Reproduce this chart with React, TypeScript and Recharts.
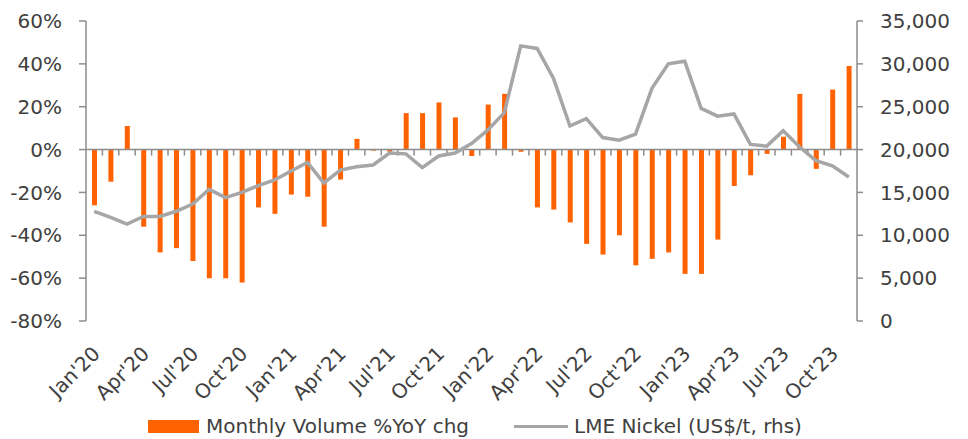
import { ComposedChart, Bar, Line, XAxis, YAxis, ReferenceLine, Legend } from 'recharts';

const months = [
  "Jan'20", "Feb'20", "Mar'20", "Apr'20", "May'20", "Jun'20", "Jul'20", "Aug'20", "Sep'20", "Oct'20", "Nov'20", "Dec'20",
  "Jan'21", "Feb'21", "Mar'21", "Apr'21", "May'21", "Jun'21", "Jul'21", "Aug'21", "Sep'21", "Oct'21", "Nov'21", "Dec'21",
  "Jan'22", "Feb'22", "Mar'22", "Apr'22", "May'22", "Jun'22", "Jul'22", "Aug'22", "Sep'22", "Oct'22", "Nov'22", "Dec'22",
  "Jan'23", "Feb'23", "Mar'23", "Apr'23", "May'23", "Jun'23", "Jul'23", "Aug'23", "Sep'23", "Oct'23", "Nov'23",
];

// Monthly volume, % YoY change
const volumeYoY = [
  -26, -15, 11, -36, -48, -46, -52, -60, -60, -62, -27, -30,
  -21, -22, -36, -14, 5, -0.5, -1, 17, 17, 22, 15, -3,
  21, 26, -1, -27, -28, -34, -44, -49, -40, -54, -51, -48,
  -58, -58, -42, -17, -12, -2, 6, 26, -9, 28, 39,
];

// LME nickel, US$/t
const nickel = [
  12800, 12100, 11300, 12200, 12200, 12800, 13650, 15350, 14400, 15000, 15800, 16450,
  17500, 18500, 16100, 17600, 18000, 18200, 19600, 19500, 17900, 19250, 19600, 20700,
  22300, 24300, 32100, 31800, 28300, 22750, 23600, 21400, 21100, 21800, 27150, 30000,
  30300, 24800, 23900, 24150, 20600, 20400, 22200, 20300, 18700, 18100, 16800,
];

const pctTicks = [-80, -60, -40, -20, 0, 20, 40, 60];
const usdTicks = [0, 5000, 10000, 15000, 20000, 25000, 30000, 35000];

const data = months.map((m, i) => ({ month: m, volume: volumeYoY[i], nickel: nickel[i] }));

const FONT = '"DejaVu Sans", sans-serif';
const TEXT = '#404040';
const AXIS = '#8c8c8c';
const ORANGE = '#FF6200';
const GREY = '#A6A6A6';

const MonthTick = ({ x, y, payload }: any) => (
  <g transform={`translate(${x + 7},${y + 34}) rotate(-45)`}>
    <text x={0} y={0} textAnchor="end" fontSize={20} fontFamily={FONT} fill={TEXT}>
      {payload.value}
    </text>
  </g>
);

// zero line with small tick marks between the months
const ZeroLine = (p: any) => {
  const step = (p.x2 - p.x1) / data.length;
  return (
    <g>
      <line x1={p.x1} y1={p.y1} x2={p.x2} y2={p.y2} stroke={AXIS} strokeWidth={1.5} />
      {data.slice(1).map((_, i) => (
        <line
          key={i}
          x1={p.x1 + step * (i + 1)}
          x2={p.x1 + step * (i + 1)}
          y1={p.y1}
          y2={p.y1 + 6}
          stroke={AXIS}
          strokeWidth={1.5}
        />
      ))}
    </g>
  );
};

const LegendBox = () => (
  <div
    style={{
      display: 'flex',
      justifyContent: 'center',
      alignItems: 'center',
      fontFamily: FONT,
      fontSize: 20,
      lineHeight: '23px',
      color: TEXT,
      paddingRight: 18,
    }}
  >
    <span style={{ display: 'inline-block', width: 51, height: 13, background: ORANGE, marginRight: 7 }} />
    <span style={{ marginRight: 45 }}>Monthly Volume %YoY chg</span>
    <span style={{ display: 'inline-block', width: 54, height: 3.5, background: GREY, marginRight: 6 }} />
    <span>LME Nickel (US$/t, rhs)</span>
  </div>
);

export default function App() {
  return (
    <div style={{ position: 'absolute', left: 0, top: 0, background: '#fff' }}>
      <ComposedChart
        width={968}
        height={439}
        data={data}
        margin={{ top: 21, right: 0, left: 0, bottom: 48 }}
        barCategoryGap={0}
      >
        <XAxis
          dataKey="month"
          interval={2}
          axisLine={false}
          tickLine={false}
          tickSize={0}
          tickMargin={0}
          height={70}
          tick={<MonthTick />}
        />
        <YAxis
          yAxisId="left"
          width={86}
          domain={[-80, 60]}
          ticks={pctTicks}
          tickFormatter={(v) => `${v}%`}
          axisLine={{ stroke: AXIS, strokeWidth: 1.5 }}
          tickLine={{ stroke: AXIS, strokeWidth: 1.5 }}
          tickSize={7}
          tickMargin={17}
          tick={{ fill: TEXT, fontSize: 20, fontFamily: FONT }}
          allowDataOverflow
        />
        <YAxis
          yAxisId="right"
          orientation="right"
          width={111}
          domain={[0, 35000]}
          ticks={usdTicks}
          tickFormatter={(v) => v.toLocaleString('en-US')}
          axisLine={{ stroke: AXIS, strokeWidth: 1.5 }}
          tickLine={{ stroke: AXIS, strokeWidth: 1.5 }}
          tickSize={6}
          tickMargin={17}
          tick={{ fill: TEXT, fontSize: 20, fontFamily: FONT, textAnchor: 'start' }}
        />
        <ReferenceLine yAxisId="left" y={0} shape={<ZeroLine />} />
        <Bar yAxisId="left" dataKey="volume" fill={ORANGE} barSize={5} isAnimationActive={false} />
        <Line
          yAxisId="right"
          dataKey="nickel"
          type="linear"
          stroke={GREY}
          strokeWidth={3.5}
          dot={false}
          isAnimationActive={false}
        />
        <Legend
          layout="horizontal"
          verticalAlign="middle"
          align="center"
          content={<LegendBox />}
          wrapperStyle={{ top: 415, left: 0, width: 968 }}
        />
      </ComposedChart>
    </div>
  );
}
